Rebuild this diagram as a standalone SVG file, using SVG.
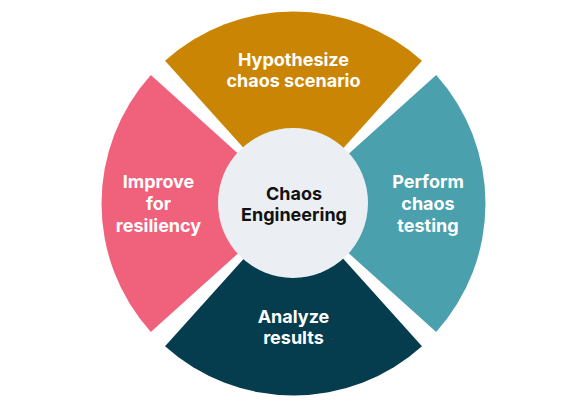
<svg xmlns="http://www.w3.org/2000/svg" width="584" height="412" viewBox="0 0 584 412">
<style>
.lbl{font-family:Inter,"Liberation Sans",Arial,sans-serif;font-weight:700;font-size:18px;fill:#ffffff;text-anchor:middle}
.ctr{font-family:Inter,"Liberation Sans",Arial,sans-serif;font-weight:700;font-size:18px;fill:#111111;text-anchor:middle}
</style>
<rect width="584" height="412" fill="#ffffff"/>
<g id="hypothesize">
<path d="M293.5,203.5 L165.03,60.82 A192,192 0 0 1 421.97,60.82 Z" fill="#CB8505"/>
<text class="lbl" x="293.5" y="66">Hypothesize</text>
<text class="lbl" x="293.5" y="87">chaos scenario</text>
</g>
<g id="perform">
<path d="M293.5,203.5 L436.18,75.03 A192,192 0 0 1 436.18,331.97 Z" fill="#4AA1AD"/>
<text class="lbl" x="428" y="188">Perform</text>
<text class="lbl" x="428" y="210">chaos</text>
<text class="lbl" x="428" y="232">testing</text>
</g>
<g id="analyze">
<path d="M293.5,203.5 L421.97,346.18 A192,192 0 0 1 165.03,346.18 Z" fill="#053D4F"/>
<text class="lbl" x="293.5" y="323">Analyze</text>
<text class="lbl" x="293.5" y="344">results</text>
</g>
<g id="improve">
<path d="M293.5,203.5 L150.82,331.97 A192,192 0 0 1 150.82,75.03 Z" fill="#F0617C"/>
<text class="lbl" x="158.5" y="188">Improve</text>
<text class="lbl" x="158.5" y="210">for</text>
<text class="lbl" x="158.5" y="232">resiliency</text>
</g>
<g id="center">
<circle cx="293" cy="203" r="75" fill="#EBEFF3"/>
<text class="ctr" x="294" y="200">Chaos</text>
<text class="ctr" x="294" y="221">Engineering</text>
</g>
<g id="connectors"></g>
</svg>
